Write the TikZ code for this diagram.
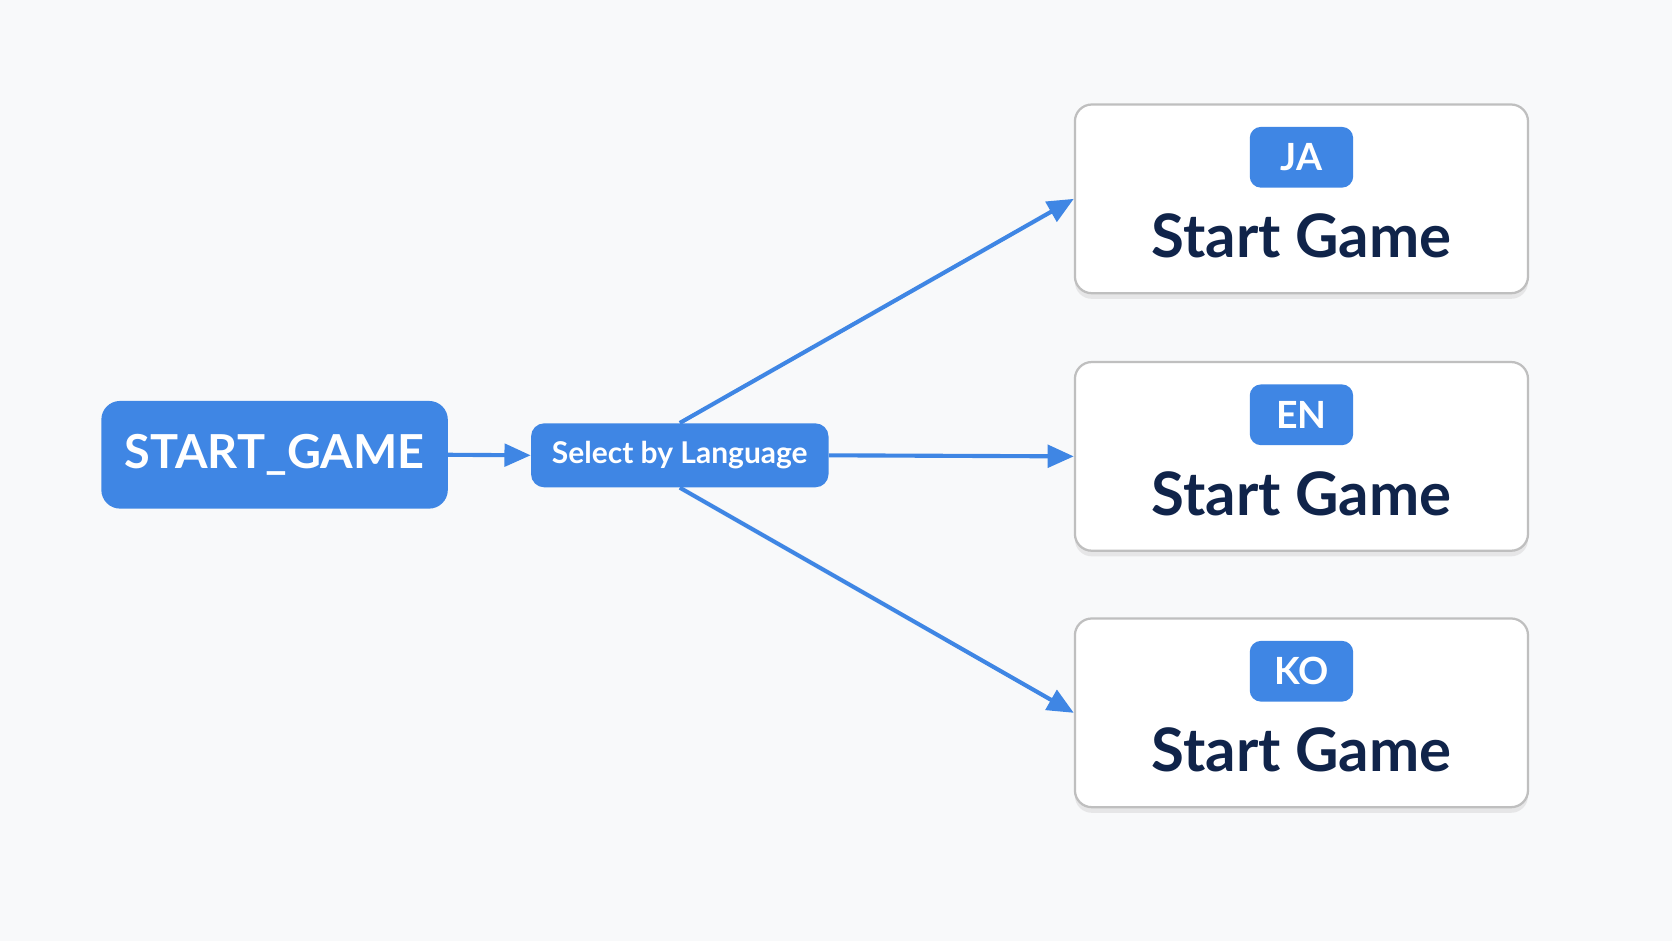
\documentclass[tikz,border=0pt]{standalone}
\usepackage{fontspec}
\setmainfont{Lato}
\usetikzlibrary{arrows.meta,shadows}
\definecolor{accent}{HTML}{3F86E4}
\definecolor{ink}{HTML}{10244A}
\definecolor{paper}{HTML}{F8F9FA}
\begin{document}
\begin{tikzpicture}[x=0.02cm, y=0.02cm, >={Triangle[length=14pt,width=12pt]},
  link/.style={->, draw=accent, line width=2.2pt},
  blue box/.style={rectangle, rounded corners=10pt, fill=accent, text=white, font=\bfseries},
  lang box/.style={rectangle, rounded corners=9pt, fill=white, draw=black!25, line width=1.2pt,
    minimum width=8.5cm, minimum height=3.54cm, drop shadow={shadow xshift=0pt, shadow yshift=-3pt, opacity=0.15}},
  badge/.style={rectangle, rounded corners=6pt, fill=accent, text=white, font=\fontsize{20}{24}\selectfont\bfseries,
    minimum width=1.94cm, minimum height=1.14cm}]
\fill[paper] (0,0) rectangle (1568,882);
\useasboundingbox (0,0) rectangle (1568,882);

\node[blue box, minimum width=6.5cm, minimum height=2.02cm, font=\fontsize{25}{28}\selectfont\bfseries] (start) at (257.5,455.5) {START\_GAME};
\node[blue box, rounded corners=7pt, minimum width=5.58cm, minimum height=1.2cm, font=\fontsize{16}{18}\selectfont\bfseries] (select) at (637.5,455) {Select by Language};

\foreach \code/\y in {JA/695.5, EN/454, KO/213.5} {
  \node[lang box] (box\code) at (1220.5,\y) {};
  \node[badge] (badge\code) at (1220.5,\y+39) {\code};
  \node[font=\fontsize{32}{36}\selectfont\bfseries, text=ink] (label\code) at (1220.5,\y-35) {Start Game};
}

\draw[link] (start.east) -- (select.west);
\draw[link] (select.north) -- (boxJA.west);
\draw[link] (select.east) -- (boxEN.west);
\draw[link] (select.south) -- (boxKO.west);
\end{tikzpicture}
\end{document}
